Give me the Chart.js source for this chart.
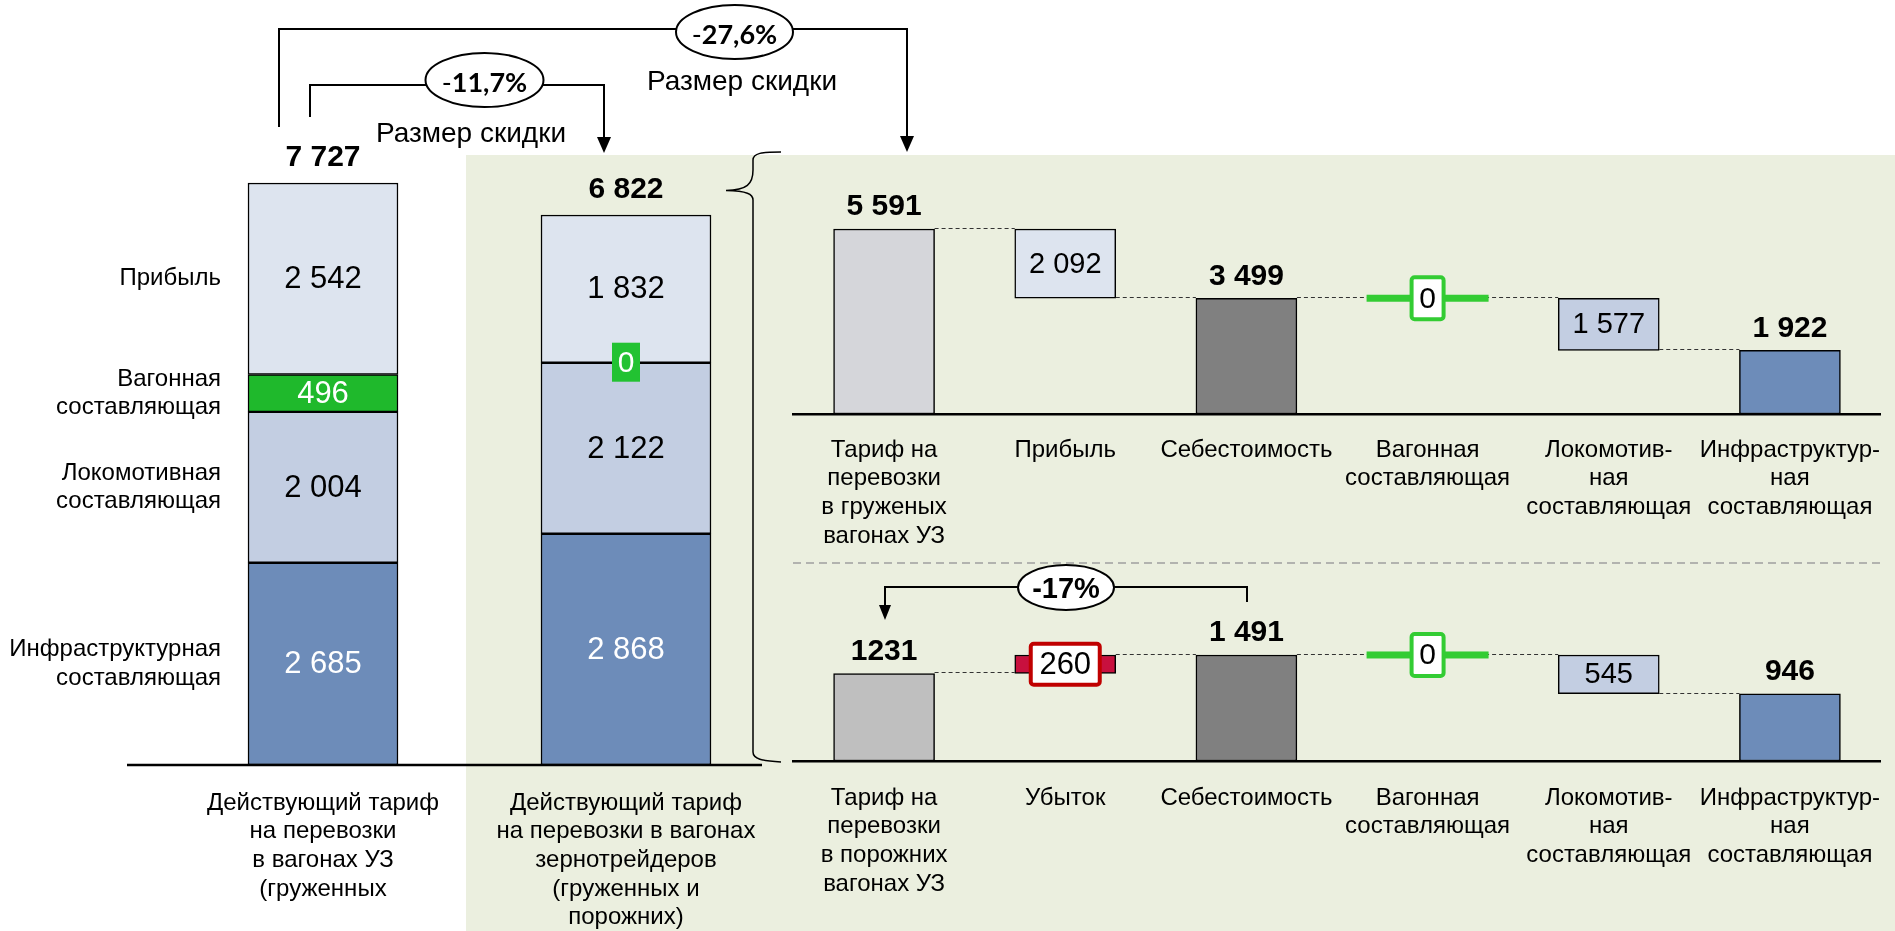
<!DOCTYPE html>
<html lang="ru">
<head>
<meta charset="UTF-8">
<title>Тарифы на перевозки в вагонах УЗ</title>
<style>
  body { margin: 0; width: 1895px; height: 931px; overflow: hidden; background: #fff; position: relative;
         font-family: 'Liberation Sans', Arial, sans-serif; }
  .panel { position: absolute; left: 466px; top: 155px; right: 0; bottom: 0; background: #ebefdf; }
  canvas { position: absolute; }
  svg { position: absolute; left: 0; top: 0; pointer-events: none; }
</style>
</head>
<body>
<div class="panel"></div>
<canvas id="tariffChart" width="800" height="931" style="left:0;top:0"></canvas>
<canvas id="loadedChart" width="1150" height="420" style="left:770px;top:150px"></canvas>
<canvas id="emptyChart" width="1150" height="361" style="left:770px;top:570px"></canvas>

<svg width="1895" height="931" viewBox="0 0 1895 931" font-family="'Liberation Sans', Arial, sans-serif">
  <!-- discount brackets -->
  <g fill="none" stroke="#000" stroke-width="2">
    <polyline points="279,127 279,29 907,29 907,137"/>
    <polyline points="310,117 310,85 604,85 604,138"/>
    <polyline points="1247,602 1247,587 885,587 885,606"/>
  </g>
  <g fill="#000">
    <polygon points="900,136 914,136 907,152"/>
    <polygon points="597,137 611,137 604,153"/>
    <polygon points="879,605 891,605 885,620"/>
  </g>
  <g fill="#fff" stroke="#000" stroke-width="2">
    <ellipse cx="734.5" cy="32" rx="58.5" ry="27"/>
    <ellipse cx="484.5" cy="80" rx="59" ry="27"/>
    <ellipse cx="1066" cy="587.5" rx="48" ry="22.5"/>
  </g>
  <g text-anchor="middle" dominant-baseline="central" fill="#000">
    <text x="734.5" y="33" font-size="27" font-family="Lato, 'Liberation Sans', sans-serif"><tspan>-</tspan><tspan font-weight="bold">27,6%</tspan></text>
    <text x="484.5" y="81" font-size="27" font-family="Lato, 'Liberation Sans', sans-serif"><tspan>-</tspan><tspan font-weight="bold">11,7%</tspan></text>
    <text x="1066" y="588" font-size="29" font-weight="bold">-17%</text>
    <text x="742" y="80" font-size="28">Размер скидки</text>
    <text x="471" y="132" font-size="28">Размер скидки</text>
  </g>
  <!-- brace, separator, left baseline -->
  <path d="M781,152 C762,152 753,153 753,160 L753,170 C753,184 747,190 726,190.5 C747,191 753,194 753,200 L753,752 C753,759 762,761 781,762"
        fill="none" stroke="#000" stroke-width="1.5"/>
  <line x1="793" y1="563" x2="1880" y2="563" stroke="#a0a0a0" stroke-width="1.5" stroke-dasharray="8,5"/>
  <line x1="127" y1="765" x2="762" y2="765" stroke="#000" stroke-width="2.5"/>
</svg>

<script src="https://cdn.jsdelivr.net/npm/chart.js"></script>
<script>
  const FONT = "'Liberation Sans', Arial, sans-serif";

  // left panel: current tariff split by component (bottom to top)
  const tariffCategories = [
    ['Действующий тариф', 'на перевозки', 'в вагонах УЗ', '(груженных'],
    ['Действующий тариф', 'на перевозки в вагонах', 'зернотрейдеров', '(груженных и', 'порожних)']
  ];
  const componentNames = [
    ['Инфраструктурная', 'составляющая'],
    ['Локомотивная', 'составляющая'],
    ['Вагонная', 'составляющая'],
    ['Прибыль']
  ];
  const tariffUZ = [2685, 2004, 496, 2542];
  const tariffTraders = [2868, 2122, 0, 1832];

  // right panel: waterfalls (floating ranges)
  const loadedCategories = [
    ['Тариф на', 'перевозки', 'в груженых', 'вагонах УЗ'],
    ['Прибыль'],
    ['Себестоимость'],
    ['Вагонная', 'составляющая'],
    ['Локомотив-', 'ная', 'составляющая'],
    ['Инфраструктур-', 'ная', 'составляющая']
  ];
  const loadedBars = [[0, 5591], [3499, 5591], [0, 3499], [3499, 3499], [1922, 3499], [0, 1922]];

  const emptyCategories = [
    ['Тариф на', 'перевозки', 'в порожних', 'вагонах УЗ'],
    ['Убыток'],
    ['Себестоимость'],
    ['Вагонная', 'составляющая'],
    ['Локомотив-', 'ная', 'составляющая'],
    ['Инфраструктур-', 'ная', 'составляющая']
  ];
  const emptyBars = [[0, 1231], [1231, 1491], [0, 1491], [1491, 1491], [946, 1491], [0, 946]];

  const componentColors = ['#6d8cb9', '#c3cee2', '#1fb92c', '#dde4ef'];
  const componentText = ['#fff', '#000', '#fff', '#000'];

  Chart.defaults.font.family = FONT;
  Chart.defaults.color = '#000';
  Chart.defaults.animation = false;

  function fmt(v) {
    return String(v).replace(/\B(?=(\d{3})+(?!\d))/g, ' ');
  }

  function box(ctx, x, y, w, h, r, fill, stroke, lw) {
    ctx.beginPath();
    ctx.moveTo(x + r, y);
    ctx.arcTo(x + w, y, x + w, y + h, r);
    ctx.arcTo(x + w, y + h, x, y + h, r);
    ctx.arcTo(x, y + h, x, y, r);
    ctx.arcTo(x, y, x + w, y, r);
    ctx.closePath();
    ctx.fillStyle = fill;
    ctx.fill();
    if (stroke) {
      ctx.strokeStyle = stroke;
      ctx.lineWidth = lw;
      ctx.stroke();
    }
  }

  // labels for stacked bars: values inside, row names, totals on top
  const stackLabels = {
    id: 'stackLabels',
    afterDatasetsDraw(chart) {
      const ctx = chart.ctx;
      const tops = [];
      ctx.save();
      ctx.textAlign = 'center';
      ctx.textBaseline = 'middle';
      chart.data.datasets.forEach((ds, di) => {
        chart.getDatasetMeta(di).data.forEach((bar, idx) => {
          const v = ds.data[idx];
          if (v === null || v === undefined) return;
          const cy = (bar.y + bar.base) / 2;
          tops[idx] = Math.min(tops[idx] ?? Infinity, bar.y);
          if (v === 0) {
            ctx.fillStyle = '#22c232';
            ctx.fillRect(bar.x - 14, cy - 20, 28, 39);
            ctx.fillStyle = '#fff';
            ctx.font = `30px ${FONT}`;
            ctx.fillText('0', bar.x, cy + 1);
          } else {
            ctx.fillStyle = ds.textColor;
            ctx.font = `31px ${FONT}`;
            ctx.fillText(fmt(v), bar.x, cy + 1);
          }
          if (idx === 0) {
            ctx.save();
            ctx.textAlign = 'right';
            ctx.fillStyle = '#000';
            ctx.font = `24px ${FONT}`;
            ds.names.forEach((line, li) => {
              ctx.fillText(line, bar.x - bar.width / 2 - 27, cy + (li - (ds.names.length - 1) / 2) * 28.5);
            });
            ctx.restore();
          }
        });
      });
      ctx.font = `bold 30px ${FONT}`;
      ctx.fillStyle = '#000';
      [tariffUZ, tariffTraders].forEach((arr, idx) => {
        const total = arr.reduce((a, b) => a + b, 0);
        ctx.fillText(fmt(total), chart.scales.x.getPixelForValue(idx), tops[idx] - 25);
      });
      ctx.restore();
    }
  };

  const leftDatasets = [];
  componentNames.forEach((names, i) => {
    leftDatasets.push({
      label: names.join(' '), names: names, textColor: componentText[i],
      data: [tariffUZ[i], null], yAxisID: 'yUZ', barThickness: 150,
      backgroundColor: componentColors[i], borderColor: '#000', borderWidth: 1.5, borderSkipped: false
    });
  });
  componentNames.forEach((names, i) => {
    leftDatasets.push({
      label: names.join(' '), names: names, textColor: componentText[i],
      data: [null, tariffTraders[i]], yAxisID: 'yTR', barThickness: 170,
      backgroundColor: componentColors[i], borderColor: '#000', borderWidth: 1.5, borderSkipped: false
    });
  });

  new Chart(document.getElementById('tariffChart'), {
    type: 'bar',
    data: { labels: tariffCategories, datasets: leftDatasets },
    options: {
      responsive: false,
      layout: { padding: { left: 171.5, right: 22.5, top: 0, bottom: 0 } },
      plugins: { legend: { display: false }, tooltip: { enabled: false } },
      scales: {
        x: {
          stacked: true,
          grid: { display: false, drawTicks: false },
          border: { display: false },
          ticks: { padding: 24, maxRotation: 0, autoSkip: false, font: { size: 24, lineHeight: 1.19 } },
          afterFit(scale) { scale.height = 166; }
        },
        yUZ: { stacked: true, display: false, min: 0, max: 10157 },
        yTR: { stacked: true, display: false, min: 0, max: 9489 }
      }
    },
    plugins: [stackLabels]
  });

  // waterfall labels, connectors and markers
  const waterfallLabels = {
    id: 'waterfallLabels',
    afterDatasetsDraw(chart, args, opts) {
      const ctx = chart.ctx;
      const meta = chart.getDatasetMeta(0);
      const ranges = chart.data.datasets[0].data;
      const yScale = chart.scales.y;
      ctx.save();
      ctx.strokeStyle = '#333';
      ctx.lineWidth = 1;
      ctx.setLineDash([4, 3]);
      for (let i = 0; i < ranges.length - 1; i++) {
        const a = ranges[i], b = ranges[i + 1];
        const level = a.find(v => v !== 0 && b.includes(v));
        const y = Math.round(yScale.getPixelForValue(level)) - 0.5;
        const x1 = meta.data[i].x + meta.data[i].width / 2;
        const x2 = meta.data[i + 1].x - meta.data[i + 1].width / 2;
        ctx.beginPath();
        ctx.moveTo(x1, y);
        ctx.lineTo(x2, y);
        ctx.stroke();
      }
      ctx.setLineDash([]);
      ctx.textAlign = 'center';
      ctx.textBaseline = 'middle';
      meta.data.forEach((bar, i) => {
        const [lo, hi] = ranges[i];
        const value = hi - lo;
        const text = opts.plain.includes(i) ? String(value) : fmt(value);
        const top = Math.min(bar.y, bar.base);
        const mid = (bar.y + bar.base) / 2;
        const kind = opts.kinds[i];
        if (kind === 'total') {
          ctx.fillStyle = '#000';
          ctx.font = `bold 30px ${FONT}`;
          ctx.fillText(text, bar.x, top - 22);
        } else if (kind === 'delta') {
          ctx.fillStyle = '#000';
          ctx.font = `29px ${FONT}`;
          ctx.fillText(text, bar.x, mid + 1);
        } else if (kind === 'zero') {
          ctx.fillStyle = '#33cc33';
          ctx.fillRect(bar.x - 61, mid - 3.5, 122, 7);
          box(ctx, bar.x - 16, mid - 21, 32, 42, 3, '#fff', '#33cc33', 4);
          ctx.fillStyle = '#000';
          ctx.font = `30px ${FONT}`;
          ctx.fillText(text, bar.x, mid + 1);
        } else if (kind === 'loss') {
          box(ctx, bar.x - 34.5, mid - 20.5, 69, 41, 3, '#fff', '#c00000', 4);
          ctx.fillStyle = '#000';
          ctx.font = `31px ${FONT}`;
          ctx.fillText(text, bar.x, mid + 1);
        }
      });
      ctx.restore();
    }
  };

  function waterfall(id, labels, ranges, colors, yMax, axisHeight, tickPad, kinds, plain) {
    new Chart(document.getElementById(id), {
      type: 'bar',
      data: {
        labels: labels,
        datasets: [{
          data: ranges,
          backgroundColor: colors,
          borderColor: '#000',
          borderWidth: ranges.map(r => (r[0] === r[1] ? 0 : 1.5)),
          borderSkipped: false,
          barThickness: 101
        }]
      },
      options: {
        responsive: false,
        layout: { padding: { left: 23.5, right: 39.5, top: 0, bottom: 0 } },
        plugins: { legend: { display: false }, tooltip: { enabled: false }, waterfallLabels: { kinds: kinds, plain: plain } },
        scales: {
          x: {
            grid: { display: false, drawTicks: false },
            border: { display: true, color: '#000', width: 2.5 },
            ticks: { padding: tickPad, maxRotation: 0, autoSkip: false, font: { size: 24, lineHeight: 1.2 } },
            afterFit(scale) { scale.height = axisHeight; }
          },
          y: { display: false, min: 0, max: yMax }
        }
      },
      plugins: [waterfallLabels]
    });
  }

  waterfall('loadedChart', loadedCategories, loadedBars,
    ['#d5d6da', '#dde4ef', '#808080', 'rgba(0,0,0,0)', '#c3cee2', '#6d8cb9'],
    7980, 156, 21.6, ['total', 'delta', 'total', 'zero', 'delta', 'total'], []);

  waterfall('emptyChart', emptyCategories, emptyBars,
    ['#bfbfbf', '#c8103e', '#808080', 'rgba(0,0,0,0)', '#c3cee2', '#6d8cb9'],
    2686, 170, 22.6, ['total', 'loss', 'total', 'zero', 'delta', 'total'], [0]);
</script>
</body>
</html>
